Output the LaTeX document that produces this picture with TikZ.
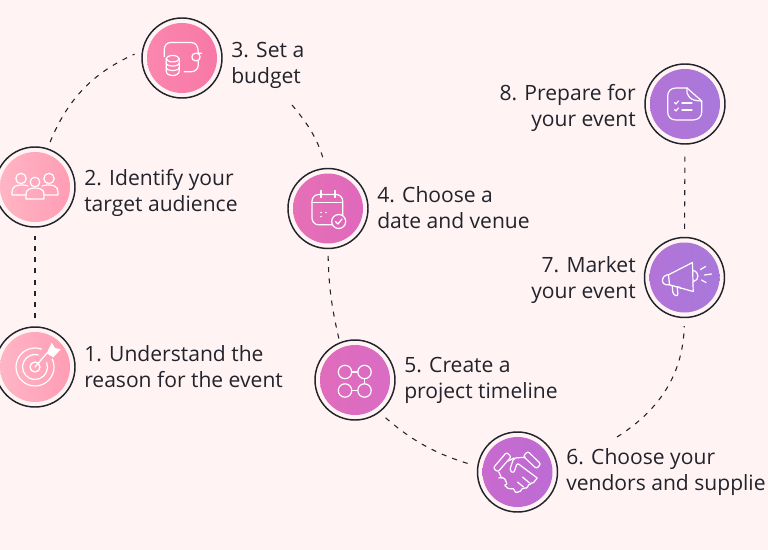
\documentclass[tikz,border=0pt]{standalone}
\usepackage{fontspec}
\setmainfont{Open Sans}
\usetikzlibrary{positioning}
\definecolor{pagepink}{HTML}{FFF4F3}
\definecolor{inkdark}{HTML}{22232C}
\definecolor{blushA}{HTML}{FFB5C4}
\definecolor{blushB}{HTML}{FF9DB4}
\definecolor{roseA}{HTML}{FA87AE}
\definecolor{roseB}{HTML}{F877A6}
\definecolor{orchidA}{HTML}{E670B6}
\definecolor{orchidB}{HTML}{E068BC}
\definecolor{orchidC}{HTML}{E06CBC}
\definecolor{orchidD}{HTML}{D96CC4}
\definecolor{plumA}{HTML}{C96ACE}
\definecolor{plumB}{HTML}{BC6CD4}
\definecolor{violetA}{HTML}{B374D8}
\definecolor{violetB}{HTML}{A878DA}
\tikzset{
  ring/.style={circle,draw=inkdark,line width=1.1pt,minimum size=60pt,inner sep=0pt},
  disc/.style={circle,minimum size=52.5pt,inner sep=0pt},
  steptext/.style={text=inkdark,align=left,inner sep=0pt,font=\fontsize{15.8}{19.5}\selectfont},
  dashline/.style={draw=inkdark,line width=0.8pt,dash pattern=on 3.8pt off 4.6pt},
  icon/.style={draw=white,line width=0.9pt,line cap=round,line join=round},
}
\begin{document}
\begin{tikzpicture}[x=0.75pt,y=-0.75pt]
  \fill[pagepink] (0,0) rectangle (768,550);
  \useasboundingbox (0,0) rectangle (768,550);
  % rings and discs
  \node[ring] (n1) at (35,367) {};
  \node[ring] (n2) at (35,187) {};
  \node[ring] (n3) at (182,58) {};
  \node[ring] (n4) at (328,208.5) {};
  \node[ring] (n5) at (355,380) {};
  \node[ring] (n6) at (517.5,472) {};
  \node[ring] (n7) at (684.5,277.5) {};
  \node[ring] (n8) at (685,104) {};
  \node[disc,left color=blushA,right color=blushB] (d1) at (n1) {};
  \node[disc,left color=blushA,right color=blushB] (d2) at (n2) {};
  \node[disc,left color=roseA,right color=roseB] (d3) at (n3) {};
  \node[disc,left color=orchidA,right color=orchidB] (d4) at (n4) {};
  \node[disc,left color=orchidC,right color=orchidD] (d5) at (n5) {};
  \node[disc,left color=plumA,right color=plumB] (d6) at (n6) {};
  \node[disc,left color=violetA,right color=violetB] (d7) at (n7) {};
  \node[disc,left color=violetA,right color=violetB] (d8) at (n8) {};
  % connectors
  \coordinate (c3) at (292,105);
  \coordinate (c6) at (617,437);
  \draw[dashline,shorten <=6pt,shorten >=6pt] (n1) -- (n2);
  \draw[dashline,shorten <=5pt,shorten >=6pt] (n2.72) to[bend left=22] (n3.170);
  \draw[dashline,shorten >=6pt] (c3) to[bend left=12] (n4.93);
  \draw[dashline,shorten <=5pt,shorten >=2pt] (n4.-90) to[bend right=6] (n5.112);
  \draw[dashline,shorten <=6pt,shorten >=6pt] (n5.-53) to[bend right=12] (n6.172);
  \draw[dashline,shorten >=6pt] (c6) to[bend right=28] (n7.-90);
  \draw[dashline,shorten <=6pt,shorten >=6pt] (n7) -- (n8);
  % labels
  \node[steptext,anchor=west] (t1) at (84,367) {1. Understand the\\reason for the event};
  \node[steptext,anchor=west] (t2) at (84,193) {2. Identify your\\target audience};
  \node[steptext,anchor=west] (t3) at (231,65) {3. Set a\\budget};
  \node[steptext,anchor=west] (t4) at (377,208) {4. Choose a\\date and venue};
  \node[steptext,anchor=west] (t5) at (404,380) {5. Create a\\project timeline};
  \node[steptext,anchor=west] (t6) at (566,472) {6. Choose your\\vendors and supplie};
  \node[steptext,anchor=east,align=right] (t7) at (636,280) {7. Market\\your event};
  \node[steptext,anchor=east,align=right] (t8) at (636,108) {8. Prepare for\\your event};
  % target
  \begin{scope}[shift={(n1)},icon]
    \draw (-25:19) arc (-25:290:19);
    \draw (-20:12.5) arc (-20:285:12.5);
    \draw (0,0) circle (5);
    \draw (0,0) -- (12,-14);
    \fill[white] (16.7,-24.3) -- (20,-19) -- (25.7,-17.7) -- (18.3,-9.7) -- (11.7,-13.7) -- cycle;
  \end{scope}
  % people
  \begin{scope}[shift={(n2)},icon]
    \draw (0,-5) circle (4.8);
    \draw (-14,-8.5) circle (5.2);
    \draw (14,-8.5) circle (5.2);
    \draw (-9,12) -- (9,12) -- (9,7) .. controls (9,2) and (4,1) .. (0,1) .. controls (-4,1) and (-9,2) .. (-9,7) -- cycle;
    \draw (-9,8) -- (-23,8) -- (-23,5) .. controls (-23,-1) and (-18,-2) .. (-14,-2) .. controls (-12,-2) and (-9,-2) .. (-7,-1);
    \draw (9,8) -- (23,8) -- (23,5) .. controls (23,-1) and (18,-2) .. (14,-2) .. controls (12,-2) and (9,-2) .. (7,-1);
  \end{scope}
  % wallet and coins
  \begin{scope}[shift={(n3)},icon]
    \draw (-17.7,-1.3) -- (-17.7,-8) .. controls (-17.7,-13) and (-15,-15.5) .. (-11,-15.5) -- (9,-15.5) .. controls (14,-15.5) and (16.3,-12) .. (16.3,-5);
    \draw[rounded corners=2.5pt] (16.5,-4.7) -- (10,-4.7) -- (10,2.7) -- (18,2.7) -- (18,-4.7) -- cycle;
    \draw (16.3,3) -- (16.3,7) .. controls (16.3,11) and (13,13.7) .. (9,13.7) -- (2.3,13.7);
    \draw (-9.3,0.7) ellipse (6.5 and 3.2);
    \draw (-15.8,0.7) -- (-15.8,13) .. controls (-15.8,19) and (-2.8,19) .. (-2.8,13) -- (-2.8,0.7);
    \draw (-15.8,5) .. controls (-15.8,9) and (-2.8,9) .. (-2.8,5);
    \draw (-15.8,9.5) .. controls (-15.8,13.5) and (-2.8,13.5) .. (-2.8,9.5);
  \end{scope}
  % calendar
  \begin{scope}[shift={(n4)},icon]
    \draw[rounded corners=5pt] (-16,-14) rectangle (14.7,16.3);
    \draw (-16,-6) -- (14.7,-6);
    \draw (-7,-18) -- (-7,-11);
    \draw (7,-18) -- (7,-11);
    \fill[white] (-7,4) circle (0.9) (-2,4) circle (0.9) (-7,8) circle (0.9);
    \filldraw[fill=orchidB] (10.7,13) circle (7);
    \draw (7.5,13) -- (10,15.5) -- (14,10.5);
  \end{scope}
  % timeline
  \begin{scope}[shift={(n5)},icon]
    \draw (-10,-8) circle (6.7);
    \draw (9.5,-8) circle (6.7);
    \draw (-10,10.5) circle (6.7);
    \draw (9.5,10.5) circle (6.7);
    \draw (-3.3,-8) -- (2.8,-8);
    \draw (-3.3,10.5) -- (2.8,10.5);
    \draw (9.5,-1.3) -- (9.5,3.8);
  \end{scope}
  % handshake
  \begin{scope}[shift={(n6)},icon]
    \draw[rounded corners=1.5pt] (-24.3,-4) -- (-11,-19.7) -- (-6.3,-15.3) -- (-19.7,0) -- cycle;
    \draw[rounded corners=1.5pt] (10.3,-20.7) -- (23.3,-8) -- (19,-3.3) -- (5.7,-15.7) -- cycle;
    \draw[rounded corners=1.5pt] (8,-14.7) -- (-3.7,-14) -- (-8,-1.3) -- (-3.7,1) -- (-0.3,-9) -- (19.7,6);
    \draw (-9,-11) -- (-3.7,-14);
    \draw (-18.7,0) -- (-16,6);
    \draw[rounded corners=1.5pt] (-18.7,6) -- (-13.7,5) -- (-10,12.7) -- (-13.7,12.7) -- (-8,17.7) -- (-4,16) -- (-2,21) -- (3,19);
    \draw[rounded corners=1.5pt] (3,19) -- (6,15) -- (9,17) -- (12,11) -- (15,12) -- (19.7,6);
    \draw (0,10) -- (6,15);
    \draw (5,5) -- (12,11);
  \end{scope}
  % megaphone
  \begin{scope}[shift={(n7)},icon]
    \draw (-16,-2.7) -- (8,-15) -- (8.7,14) -- (-15,7.3) -- cycle;
    \draw[rounded corners=2.5pt] (-16,-3) -- (-22,-1) -- (-22,7) -- (-15,7.3);
    \draw[rounded corners=2pt] (-12.3,8) -- (-11.5,17) -- (-6.5,19) -- (-7.3,9.5);
    \draw (-7.3,9.5) .. controls (-5,9) and (-4,10) .. (-4,11);
    \draw (8.5,-7) .. controls (15,-6) and (15,3) .. (9,4);
    \draw (16,-8) -- (21,-11);
    \draw (20,-2.5) -- (27,-3.5);
    \draw (17,2.5) -- (21.5,5);
  \end{scope}
  % document
  \begin{scope}[shift={(n8)},icon]
    \draw (2,-16) -- (-9,-16) .. controls (-14,-16) and (-17.3,-13) .. (-17.3,-8) -- (-17.3,8) .. controls (-17.3,13) and (-14,16) .. (-9,16) -- (8,16) .. controls (13,16) and (16.7,13) .. (16.7,8) -- (16.7,-3) -- cycle;
    \draw (2,-16) .. controls (1,-8) and (5,-3) .. (16.7,-3);
    \draw (-10.5,-1.5) -- (-9,0) -- (-6.5,-3);
    \draw (-10.5,5.5) -- (-9,7) -- (-6.5,4);
    \draw (-3,-1) -- (7,-1);
    \draw (-3,6) -- (7,6);
  \end{scope}
\end{tikzpicture}
\end{document}
